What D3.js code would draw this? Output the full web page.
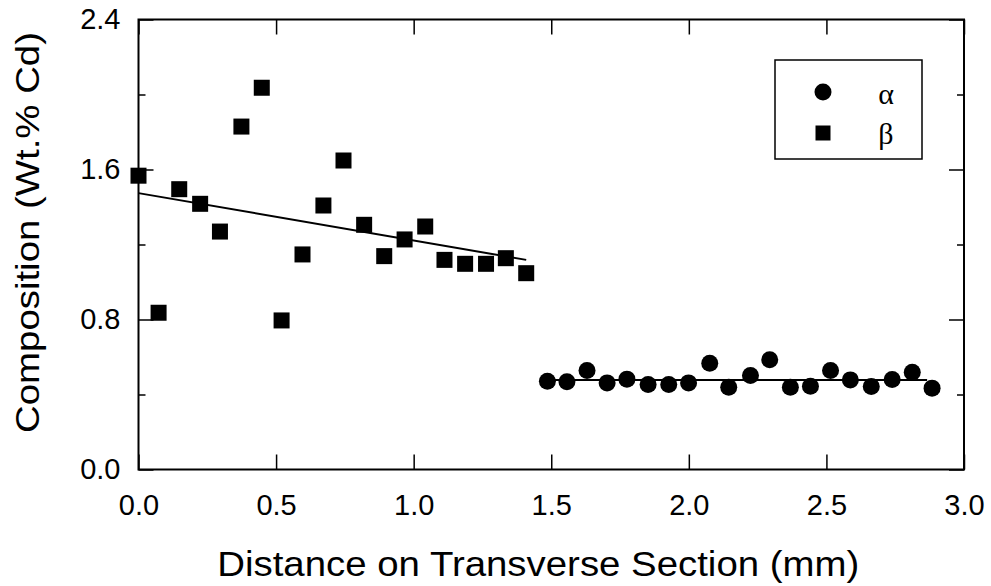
<!DOCTYPE html>
<html>
<head>
<meta charset="utf-8">
<script src="https://cdn.jsdelivr.net/npm/d3@7"></script>
<style>
  html, body { margin: 0; padding: 0; background: #fff; }
  svg { display: block; }
</style>
</head>
<body>
<svg id="chart" width="991" height="586"></svg>
<script>
// ---- data ----
const alphaX = [1.486, 1.557, 1.630, 1.703, 1.775, 1.852, 1.927, 1.999, 2.076, 2.145,
                2.224, 2.294, 2.369, 2.442, 2.515, 2.587, 2.663, 2.739, 2.812, 2.884];
const alphaY = [0.471, 0.468, 0.528, 0.462, 0.482, 0.453, 0.453, 0.462, 0.567, 0.439,
                0.501, 0.585, 0.439, 0.444, 0.528, 0.478, 0.443, 0.480, 0.519, 0.434];
const betaX  = [0.000, 0.073, 0.148, 0.224, 0.296, 0.374, 0.448, 0.520, 0.596, 0.672,
                0.745, 0.820, 0.893, 0.967, 1.042, 1.112, 1.187, 1.263, 1.335, 1.409];
const betaY  = [1.567, 0.836, 1.495, 1.417, 1.269, 1.829, 2.036, 0.795, 1.147, 1.408,
                1.648, 1.305, 1.138, 1.227, 1.296, 1.118, 1.097, 1.097, 1.127, 1.047];
const alphaFit = [[1.486, 0.478], [2.866, 0.478]];
const betaFit  = [[0.000, 1.474], [1.409, 1.118]];
const xTicks = [0.0, 0.5, 1.0, 1.5, 2.0, 2.5, 3.0];
const yTicks = [0.0, 0.8, 1.6, 2.4];
const yMinorTicks = [0.4, 1.2, 2.0];
const seriesNames = ["\u03B1", "\u03B2"];
const xTitle = "Distance on Transverse Section (mm)";
const yTitle = "Composition (Wt.% Cd)";

// ---- layout ----
const L = 138.5, R = 964, T = 19.5, B = 469.5;
const svg = d3.select("#chart");
const x = d3.scaleLinear().domain([0, 3]).range([L, R]);
const y = d3.scaleLinear().domain([0, 2.4]).range([B, T]);
const FONT = "'Liberation Sans', Arial, Helvetica, sans-serif";

function styleAxis(g) {
  g.attr("font-family", FONT).attr("font-size", 29);
  g.select(".domain").remove();
  g.selectAll(".tick line").attr("stroke", "#000").attr("stroke-width", 1.5);
  g.selectAll(".tick text").attr("fill", "#000");
}

// bottom axis
svg.append("g").attr("transform", `translate(0,${B})`)
  .call(d3.axisBottom(x).tickValues(xTicks).tickSize(-15).tickPadding(25).tickFormat(d3.format(".1f")))
  .call(styleAxis);
// top axis (ticks only)
svg.append("g").attr("transform", `translate(0,${T})`)
  .call(d3.axisTop(x).tickValues(xTicks).tickSize(-15).tickFormat(""))
  .call(styleAxis);
// left axis
svg.append("g").attr("transform", `translate(${L},0)`)
  .call(d3.axisLeft(y).tickValues(yTicks).tickSize(-15).tickPadding(18).tickFormat(d3.format(".1f")))
  .call(styleAxis);
svg.append("g").attr("transform", `translate(${L},0)`)
  .call(d3.axisLeft(y).tickValues(yMinorTicks).tickSize(-7).tickFormat(""))
  .call(styleAxis);
// right axis
svg.append("g").attr("transform", `translate(${R},0)`)
  .call(d3.axisRight(y).tickValues(yTicks).tickSize(-15).tickFormat(""))
  .call(styleAxis);
svg.append("g").attr("transform", `translate(${R},0)`)
  .call(d3.axisRight(y).tickValues(yMinorTicks).tickSize(-7).tickFormat(""))
  .call(styleAxis);

// frame
svg.append("rect").attr("x", L).attr("y", T).attr("width", R - L).attr("height", B - T)
  .attr("fill", "none").attr("stroke", "#000").attr("stroke-width", 2);

// fit lines
const line = d3.line().x(d => x(d[0])).y(d => y(d[1]));
svg.append("path").datum(betaFit).attr("d", line).attr("fill", "none").attr("stroke", "#000").attr("stroke-width", 2);
svg.append("path").datum(alphaFit).attr("d", line).attr("fill", "none").attr("stroke", "#000").attr("stroke-width", 2);

// beta squares
const S = 16;
svg.append("g").selectAll("rect").data(d3.zip(betaX, betaY)).join("rect")
  .attr("x", d => x(d[0]) - S / 2).attr("y", d => y(d[1]) - S / 2)
  .attr("width", S).attr("height", S).attr("fill", "#000");
// alpha circles
svg.append("g").selectAll("circle").data(d3.zip(alphaX, alphaY)).join("circle")
  .attr("cx", d => x(d[0])).attr("cy", d => y(d[1])).attr("r", 8.5).attr("fill", "#000");

// axis titles
svg.append("text").attr("x", (L + R) / 2 - 13).attr("y", 576)
  .attr("text-anchor", "middle").attr("font-family", FONT).attr("font-size", 35)
  .attr("textLength", 642).attr("lengthAdjust", "spacingAndGlyphs")
  .text(xTitle);
svg.append("text").attr("transform", "translate(39,232.5) rotate(-90)")
  .attr("text-anchor", "middle").attr("font-family", FONT).attr("font-size", 34)
  .attr("textLength", 401).attr("lengthAdjust", "spacingAndGlyphs")
  .text(yTitle);

// legend
const lg = svg.append("g");
lg.append("rect").attr("x", 775).attr("y", 60).attr("width", 147).attr("height", 99)
  .attr("fill", "#fff").attr("stroke", "#000").attr("stroke-width", 1.5);
lg.append("circle").attr("cx", 823).attr("cy", 92).attr("r", 8.5).attr("fill", "#000");
lg.append("rect").attr("x", 823 - 7.5).attr("y", 133 - 7.5).attr("width", 15).attr("height", 15).attr("fill", "#000");
const SERIF = "'Liberation Serif', 'Times New Roman', serif";
lg.append("text").attr("x", 886).attr("y", 104).attr("text-anchor", "middle")
  .attr("font-family", SERIF).attr("font-size", 30).text(seriesNames[0]);
lg.append("text").attr("x", 886).attr("y", 144).attr("text-anchor", "middle")
  .attr("font-family", SERIF).attr("font-size", 30).text(seriesNames[1]);
</script>
</body>
</html>
